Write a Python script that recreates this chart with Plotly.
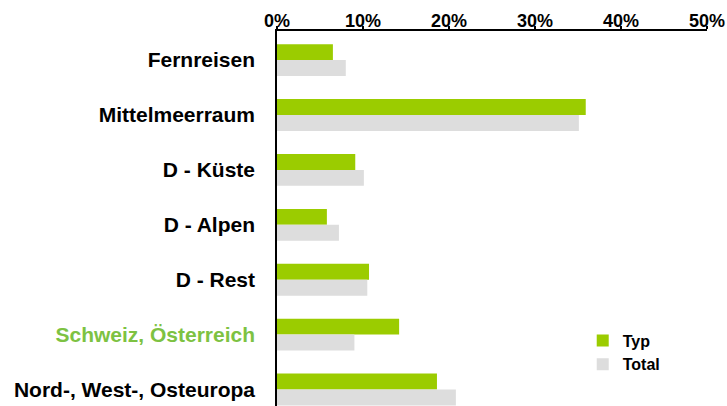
import plotly.graph_objects as go

categories = ["Fernreisen", "Mittelmeerraum", "D - Küste", "D - Alpen", "D - Rest",
              "Schweiz, Österreich", "Nord-, West-, Osteuropa"]
typ = [0.065, 0.359, 0.091, 0.058, 0.107, 0.142, 0.186]
total = [0.080, 0.351, 0.101, 0.072, 0.105, 0.090, 0.208]
highlight = "Schweiz, Österreich"

GREEN = "#9bcc00"
GREY = "#dddddd"
FONT = "Liberation Sans, Arial, sans-serif"

ticktext = [f"<span style='color:#7dc242'>{c}</span>" if c == highlight else c for c in categories]

fig = go.Figure()
fig.add_trace(go.Bar(y=categories, x=typ, orientation="h", name="Typ",
                     marker=dict(color=GREEN, line=dict(width=0))))
fig.add_trace(go.Bar(y=categories, x=total, orientation="h", name="Total",
                     marker=dict(color=GREY, line=dict(width=0))))

fig.update_layout(
    width=727, height=406,
    margin=dict(l=277, r=20, t=31, b=0, autoexpand=False),
    paper_bgcolor="white", plot_bgcolor="white",
    barmode="group", bargap=0.42, bargroupgap=0,
    font=dict(family=FONT, color="black"),
    showlegend=True,
    legend=dict(x=0.711, y=0.22, xanchor="left", yanchor="top",
                font=dict(family=FONT, size=16, weight="bold"),
                bgcolor="rgba(0,0,0,0)", itemwidth=30, tracegroupgap=0),
    xaxis=dict(side="top", range=[0, 0.5], dtick=0.1, tickformat=".0%",
               showgrid=False, zeroline=False, showline=True, linecolor="black",
               linewidth=1.5, ticks="outside", ticklen=3, tickcolor="black",
               tickwidth=1.5, automargin=False, ticklabelstandoff=-8,
               ticklabeloverflow="allow",
               tickfont=dict(family=FONT, size=18, weight="bold")),
    yaxis=dict(range=[6.3, -0.53], tickmode="array", tickvals=categories,
               ticktext=ticktext, showgrid=False, zeroline=False, showline=True,
               linecolor="black", linewidth=1.5, ticks="", ticklabelstandoff=16,
               automargin=False,
               tickfont=dict(family=FONT, size=21, weight="bold")),
)

fig.write_html("out.html",
               config={"displayModeBar": False},
               post_script="document.body.style.margin='0';document.body.style.overflow='hidden';")
